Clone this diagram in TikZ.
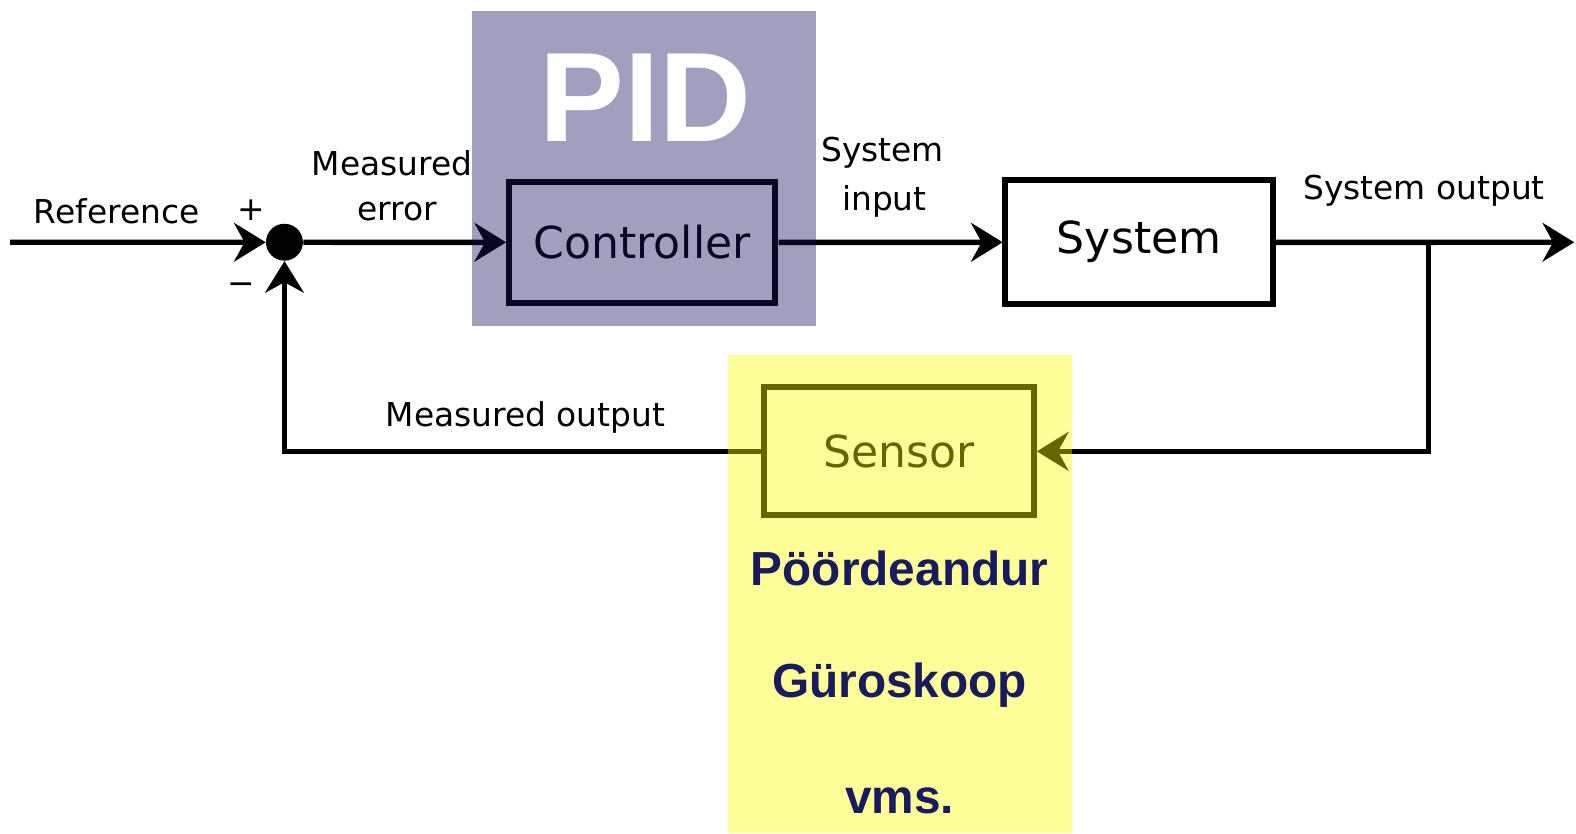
\documentclass[tikz,border=0pt]{standalone}
\usepackage{fontspec}
\setmainfont{DejaVu Sans}
\newfontfamily\libsans{Liberation Sans}
\usetikzlibrary{arrows.meta}
\definecolor{pidtint}{RGB}{18,18,92}
\definecolor{sensortint}{RGB}{255,255,0}
\definecolor{navytext}{RGB}{26,26,94}
\tikzset{
  px/.style={x=0.02cm,y=-0.02cm},
  blockbox/.style={draw=black,line width=3.4pt,rectangle,inner sep=0pt,font=\fontsize{25.1}{30}\selectfont},
  lbl/.style={inner sep=0pt,font=\fontsize{18.7}{22}\selectfont},
  sig/.style={line width=3.1pt},
  sigarrow/.style={sig,-{Stealth[length=18pt,width=22pt,inset=6pt]}},
  navylbl/.style={inner sep=0pt,text=navytext,font=\libsans\bfseries\fontsize{27.2}{32}\selectfont},
}
\begin{document}
\begin{tikzpicture}[px]
\useasboundingbox (0,0) rectangle (1576,833);
\begin{scope}[scale=1.005]
% nodes
\coordinate (start) at (10,241);
\node[circle,fill=black,inner sep=0pt,minimum size=21pt] (sum) at (283,241) {};
\node[blockbox,minimum width=151.6pt,minimum height=69pt] (ctrl) at (639,241) {Controller};
\node[blockbox,minimum width=152.2pt,minimum height=70.6pt] (sys) at (1133.5,241) {System};
\node[blockbox,minimum width=153.3pt,minimum height=73pt] (sens) at (894.5,449) {Sensor};
\coordinate (branch) at (1421,241);
\coordinate (branchlow) at (1421,449);
\coordinate (outend) at (1566,241);
\coordinate (fbcorner) at (283,449);
% connectors
\draw[sigarrow] (start) -- (sum);
\draw[sigarrow] (sum) -- (ctrl);
\draw[sigarrow] (ctrl) -- (sys);
\draw[sigarrow] (sys) -- (outend);
\draw[sig,line join=miter] (branch) -- (branchlow) -- ++(-1,0);
\draw[sigarrow] (branchlow) -- (sens.east);
\draw[sig] (sens.west) -- (fbcorner) -- ++(0,-30);
\draw[sigarrow] (fbcorner) -- (sum.south);
% labels
\node[lbl] (lref) at (116,210) {Reference};
\node[lbl] (lplus) at (250,209) {+};
\node[lbl] (lminus) at (240,287) {−};
\node[lbl] (lme1) at (390,162) {Measured};
\node[lbl] (lme2) at (395,210) {error};
\node[lbl] (lsi1) at (878,152) {System};
\node[lbl] (lsi2) at (880,200) {input};
\node[lbl] (lso) at (1417,190) {System output};
\node[lbl] (lmo) at (523,415) {Measured output};
% tinted overlays
\fill[pidtint,fill opacity=0.4] (470,11) rectangle (812,324);
\fill[sensortint,fill opacity=0.4] (724,353) rectangle (1067,829);
% overlay texts
\node[inner sep=0pt,text=white,font=\libsans\bfseries\fontsize{72.4}{80}\selectfont] (pid) at (642,97) {PID};
\node[navylbl] (t1) at (895,566) {Pöördeandur};
\node[navylbl] (t2) at (895,682) {Güroskoop};
\node[navylbl] (t3) at (895,797) {vms.};
\end{scope}
\end{tikzpicture}
\end{document}
